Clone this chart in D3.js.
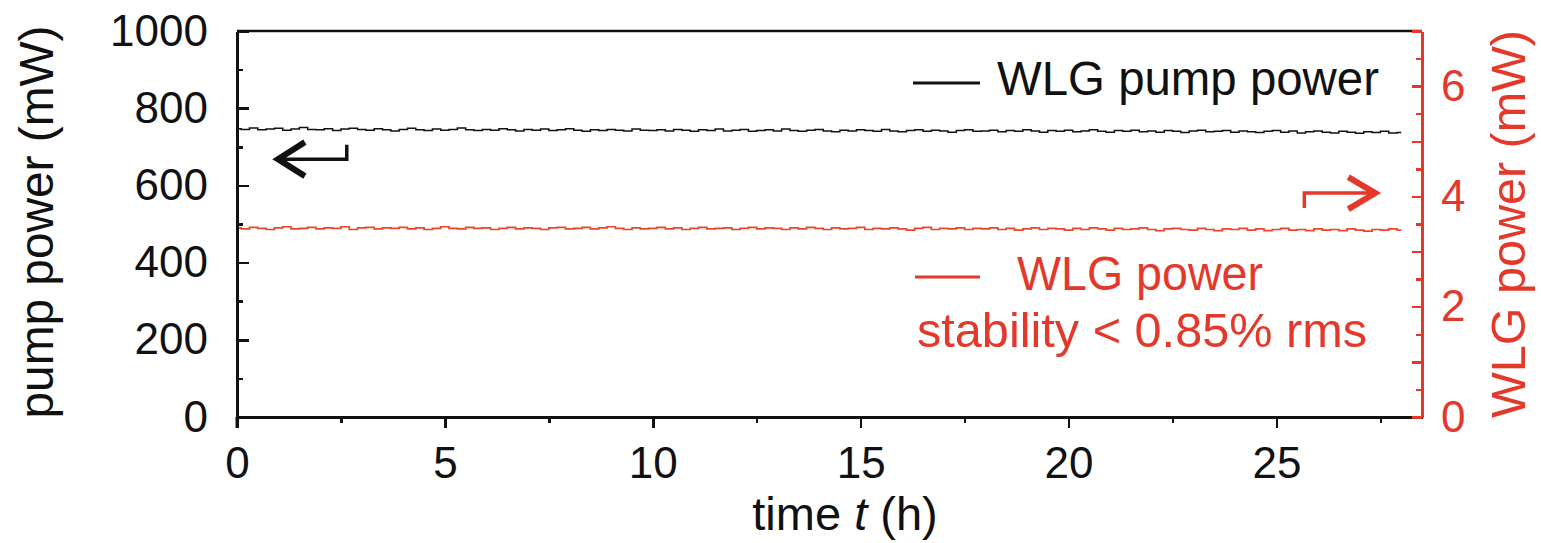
<!DOCTYPE html>
<html lang="en">
    <head>
        <meta charset="utf-8">
        <title>WLG stability</title>
        <script type="text/javascript" src="https://cdn.jsdelivr.net/npm/d3@7/dist/d3.min.js"></script>
        <style type="text/css">
        body {
            margin: 0;
            background: #fff;
        }
        svg text {
            font-family: "Liberation Sans", Arial, sans-serif;
        }
        .axis text {
            font-size: 44px;
        }
        .axis path,
        .axis line {
            fill: none;
            shape-rendering: crispEdges;
        }
        </style>
    </head>
    <body>
        <script>
                var w = 1541;
                var h = 543;
                var red = "#e4382b";

                // sampled every 0.2 h, 0 .. 28 h
                var sampleStep = 0.2;

                // pump power (mW), left axis
                var pumpPower = [
                    747,745,749,744,746,748,743,746,750,745,
                    744,747,742,746,748,745,743,747,744,741,
                    745,748,744,742,746,743,745,749,744,742,
                    745,743,747,744,741,745,743,746,742,744,
                    747,743,740,744,742,745,743,741,746,743,
                    742,744,741,745,743,740,744,742,746,741,
                    743,745,740,742,744,741,746,742,740,743,
                    745,741,739,743,741,744,742,740,745,741,
                    739,742,744,740,743,741,738,742,744,740,
                    741,743,739,742,740,744,741,738,742,740,
                    743,739,741,744,740,738,742,740,743,739,
                    741,738,742,740,737,741,743,739,740,742,
                    738,741,739,737,740,742,738,741,736,739,
                    741,738,736,740,738,735,739,737,740,736,
                    737];

                // WLG power (mW), right axis
                var wlgPower = [
                    3.43,3.41,3.44,3.42,3.40,3.43,3.45,3.41,3.42,3.44,
                    3.41,3.43,3.42,3.45,3.40,3.43,3.44,3.41,3.43,3.42,
                    3.44,3.41,3.43,3.40,3.42,3.45,3.42,3.41,3.44,3.42,
                    3.43,3.40,3.42,3.44,3.41,3.43,3.42,3.40,3.43,3.44,
                    3.41,3.42,3.44,3.41,3.43,3.45,3.42,3.40,3.43,3.41,
                    3.42,3.44,3.41,3.43,3.40,3.42,3.44,3.41,3.42,3.43,
                    3.40,3.42,3.44,3.41,3.43,3.42,3.40,3.43,3.41,3.44,
                    3.42,3.40,3.43,3.41,3.42,3.44,3.40,3.42,3.41,3.43,
                    3.41,3.39,3.42,3.44,3.40,3.42,3.41,3.43,3.40,3.42,
                    3.41,3.43,3.40,3.42,3.39,3.41,3.43,3.40,3.42,3.41,
                    3.39,3.42,3.40,3.43,3.41,3.39,3.42,3.40,3.41,3.43,
                    3.40,3.38,3.41,3.42,3.40,3.39,3.42,3.40,3.38,3.41,
                    3.40,3.42,3.39,3.41,3.38,3.40,3.42,3.39,3.40,3.38,
                    3.41,3.39,3.40,3.38,3.41,3.39,3.37,3.40,3.39,3.41,
                    3.39];

                var xMajor = [0, 5, 10, 15, 20, 25];
                var xMinor = [2.5, 7.5, 12.5, 17.5, 22.5, 27.5];
                var yLeftMajor = [0, 200, 400, 600, 800, 1000];
                var yLeftMinor = [100, 300, 500, 700, 900];
                var yRightMajor = [0, 1, 2, 3, 4, 5, 6, 7];
                var yRightMinor = [0.5, 1.5, 2.5, 3.5, 4.5, 5.5, 6.5];
                var yRightLabels = [0, 2, 4, 6];

                var plotL = 237, plotR = 1422, plotT = 31, plotB = 417;

                var xScale = d3.scaleLinear().domain([0, 28.5]).range([plotL, plotR]);
                var yLeft = d3.scaleLinear().domain([0, 1000]).range([plotB, plotT]);
                var yRight = d3.scaleLinear().domain([0, 7]).range([plotB, plotT]);

                var svg = d3.select("body")
                  .append("svg")
                  .attr("width", w)
                  .attr("height", h);

                // top frame line
                svg.append("line")
                  .attr("x1", plotL).attr("x2", plotR)
                  .attr("y1", plotT).attr("y2", plotT)
                  .attr("stroke", "#111")
                  .attr("stroke-width", 2.5);

                // data lines (stepped, like the logger trace)
                var lineLeft = d3.line()
                  .curve(d3.curveStep)
                  .x(function(d, i) { return xScale(i * sampleStep); })
                  .y(function(d) { return yLeft(d); });

                var lineRight = d3.line()
                  .curve(d3.curveStep)
                  .x(function(d, i) { return xScale(i * sampleStep); })
                  .y(function(d) { return yRight(d); });

                svg.append("path")
                  .datum(pumpPower)
                  .attr("d", lineLeft)
                  .attr("fill", "none")
                  .attr("stroke", "#111")
                  .attr("stroke-width", 1.5);

                svg.append("path")
                  .datum(wlgPower)
                  .attr("d", lineRight)
                  .attr("fill", "none")
                  .attr("stroke", "#ec4628")
                  .attr("stroke-width", 1.7);

                // x axis
                var gx = svg.append("g")
                  .attr("class", "axis")
                  .attr("transform", "translate(0," + plotB + ")")
                  .call(d3.axisBottom(xScale).tickValues(xMajor).tickSize(11).tickSizeOuter(0).tickPadding(19)
                    .tickFormat(d3.format("d")));
                gx.select(".domain").attr("stroke", "#111").attr("stroke-width", 2.5);
                gx.selectAll(".tick line").attr("stroke", "#111").attr("stroke-width", 2.5);
                gx.selectAll("text").attr("fill", "#111");

                var gxm = svg.append("g")
                  .attr("class", "axis")
                  .attr("transform", "translate(0," + plotB + ")")
                  .call(d3.axisBottom(xScale).tickValues(xMinor).tickSize(6).tickFormat(""));
                gxm.select(".domain").remove();
                gxm.selectAll(".tick line").attr("stroke", "#111").attr("stroke-width", 2.5);

                // left axis
                var gl = svg.append("g")
                  .attr("class", "axis")
                  .attr("transform", "translate(" + plotL + ",0)")
                  .call(d3.axisLeft(yLeft).tickValues(yLeftMajor).tickSize(-12).tickSizeOuter(0).tickPadding(29)
                    .tickFormat(d3.format("d")));
                gl.select(".domain").attr("stroke", "#111").attr("stroke-width", 3);
                gl.selectAll(".tick line").attr("stroke", "#111").attr("stroke-width", 2.5);
                gl.selectAll("text").attr("fill", "#111");

                var glm = svg.append("g")
                  .attr("class", "axis")
                  .attr("transform", "translate(" + plotL + ",0)")
                  .call(d3.axisLeft(yLeft).tickValues(yLeftMinor).tickSize(-6).tickFormat(""));
                glm.select(".domain").remove();
                glm.selectAll(".tick line").attr("stroke", "#111").attr("stroke-width", 2.5);

                // x=0 tick runs through the left axis below the plot
                svg.append("line")
                  .attr("x1", plotL).attr("x2", plotL)
                  .attr("y1", plotB).attr("y2", plotB + 11)
                  .attr("stroke", "#111").attr("stroke-width", 3);

                // right axis (red)
                var gr = svg.append("g")
                  .attr("class", "axis")
                  .attr("transform", "translate(" + plotR + ",0)")
                  .call(d3.axisRight(yRight).tickValues(yRightMajor).tickSize(-10).tickSizeOuter(0).tickPadding(19)
                    .tickFormat(function(d) { return yRightLabels.indexOf(d) >= 0 ? d : ""; }));
                gr.select(".domain").attr("stroke", red).attr("stroke-width", 3);
                gr.selectAll(".tick line").attr("stroke", red).attr("stroke-width", 2.5);
                gr.selectAll("text").attr("fill", red);

                var grm = svg.append("g")
                  .attr("class", "axis")
                  .attr("transform", "translate(" + plotR + ",0)")
                  .call(d3.axisRight(yRight).tickValues(yRightMinor).tickSize(-6).tickFormat(""));
                grm.select(".domain").remove();
                grm.selectAll(".tick line").attr("stroke", red).attr("stroke-width", 2.5);

                // axis titles
                var xt = svg.append("text")
                  .attr("x", 845)
                  .attr("y", 530)
                  .attr("text-anchor", "middle")
                  .attr("font-size", 47)
                  .attr("fill", "#111");
                xt.append("tspan").text("time ");
                xt.append("tspan").attr("font-style", "italic").text("t");
                xt.append("tspan").text(" (h)");

                svg.append("text")
                  .text("pump power (mW)")
                  .attr("transform", "translate(53,222) rotate(-90)")
                  .attr("text-anchor", "middle")
                  .attr("font-size", 48)
                  .attr("textLength", 393)
                  .attr("lengthAdjust", "spacingAndGlyphs")
                  .attr("fill", "#111");

                svg.append("text")
                  .text("WLG power (mW)")
                  .attr("transform", "translate(1525,224) rotate(-90)")
                  .attr("text-anchor", "middle")
                  .attr("font-size", 48)
                  .attr("textLength", 388)
                  .attr("lengthAdjust", "spacingAndGlyphs")
                  .attr("fill", red);

                // legend
                svg.append("line")
                  .attr("x1", 913).attr("x2", 980)
                  .attr("y1", 83).attr("y2", 83)
                  .attr("stroke", "#111").attr("stroke-width", 3);
                svg.append("text")
                  .text("WLG pump power")
                  .attr("x", 997).attr("y", 95)
                  .attr("font-size", 48)
                  .attr("textLength", 382)
                  .attr("lengthAdjust", "spacingAndGlyphs")
                  .attr("fill", "#111");

                svg.append("line")
                  .attr("x1", 915).attr("x2", 980)
                  .attr("y1", 277).attr("y2", 277)
                  .attr("stroke", red).attr("stroke-width", 3);
                svg.append("text")
                  .text("WLG power")
                  .attr("x", 1017).attr("y", 290)
                  .attr("font-size", 48)
                  .attr("textLength", 246)
                  .attr("lengthAdjust", "spacingAndGlyphs")
                  .attr("fill", red);
                svg.append("text")
                  .text("stability < 0.85% rms")
                  .attr("x", 917).attr("y", 347)
                  .attr("font-size", 48)
                  .attr("textLength", 450)
                  .attr("lengthAdjust", "spacingAndGlyphs")
                  .attr("fill", red);

                // arrows pointing at the axis each line belongs to
                var ax1 = xScale(0.96), ax2 = xScale(2.64), ay = yLeft(668), ayHook = yLeft(705);
                svg.append("path")
                  .attr("d", "M" + ax1 + "," + ay + "H" + ax2 + "V" + ayHook)
                  .attr("fill", "none").attr("stroke", "#111").attr("stroke-width", 3.5);
                svg.append("path")
                  .attr("d", "M" + (ax1 + 28) + "," + (ay - 17) + "L" + (ax1 + 1) + "," + ay + "L" + (ax1 + 28) + "," + (ay + 17))
                  .attr("fill", "none").attr("stroke", "#111").attr("stroke-width", 6);

                var bx1 = xScale(25.67), bx2 = xScale(27.4), by = yRight(4.06), byHook = yRight(3.79);
                svg.append("path")
                  .attr("d", "M" + bx1 + "," + byHook + "V" + by + "H" + bx2)
                  .attr("fill", "none").attr("stroke", red).attr("stroke-width", 3.5);
                svg.append("path")
                  .attr("d", "M" + (bx2 - 28) + "," + (by - 16) + "L" + (bx2 - 1) + "," + by + "L" + (bx2 - 28) + "," + (by + 16))
                  .attr("fill", "none").attr("stroke", red).attr("stroke-width", 6);
            </script>
    </body>
</html>
